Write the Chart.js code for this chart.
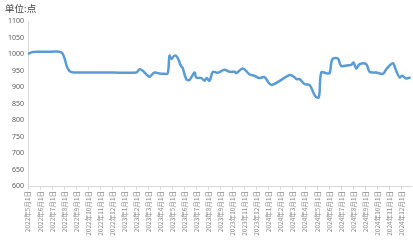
<!DOCTYPE html>
<html>
<head>
<meta charset="utf-8">
<script src="https://cdn.jsdelivr.net/npm/chart.js@4/dist/chart.umd.min.js"></script>
<style>
    html, body { margin: 0; padding: 0; background: #fff; }
    #wrap { width: 413px; height: 241px; position: relative; }
    #unit {
        position: absolute; left: 5px; top: 1px;
        font: 9.5px "Noto Sans CJK SC", sans-serif; color: #404040;
    }
</style>
</head>
<body>
<div id="wrap"><canvas id="chart"></canvas><div id="unit">单位:点</div></div>
<script>
// Month tick labels (one per month start)
const monthLabels = [
    '2022年5月1日', '2022年6月1日', '2022年7月1日', '2022年8月1日', '2022年9月1日',
    '2022年10月1日', '2022年11月1日', '2022年12月1日', '2023年1月1日', '2023年2月1日',
    '2023年3月1日', '2023年4月1日', '2023年5月1日', '2023年6月1日', '2023年7月1日',
    '2023年8月1日', '2023年9月1日', '2023年10月1日', '2023年11月1日', '2023年12月1日',
    '2024年1月1日', '2024年2月1日', '2024年3月1日', '2024年4月1日', '2024年5月1日',
    '2024年6月1日', '2024年7月1日', '2024年8月1日', '2024年9月1日', '2024年10月1日',
    '2024年11月1日', '2024年12月1日'
];

// Position of each point, in months since 2022-05-01
const pointMonths = [
    0, 0.4, 1.0, 2.0, 2.6, 2.85, 3.05, 3.25, 3.5, 3.8,
    5.0, 7.0, 9.0, 9.26, 9.5, 9.95, 10.1, 10.5, 10.9, 11.33,
    11.6, 11.75, 11.9, 12.17, 12.4, 12.7, 12.83, 13.14, 13.4, 13.83,
    13.97, 14.4, 14.66, 14.83, 15.07, 15.35, 15.74, 16.32, 16.74, 17.15,
    17.3, 17.84, 18.4, 18.8, 19.2, 19.64, 20.05, 20.33, 21.7, 21.97,
    22.3, 22.55, 22.96, 23.38, 23.87, 24.15, 24.35, 24.77, 25.04, 25.27,
    25.73, 26.0, 26.56, 26.84, 27.03, 27.26, 27.53, 28.09, 28.36, 28.92,
    29.47, 29.75, 30.3, 30.52, 30.85, 31.07, 31.4, 31.77
];

// Index value (点)
const pointValues = [
    1000, 1006, 1007, 1007, 1007, 1002, 985, 960, 947, 944,
    944, 944, 944, 954, 950, 934, 931, 944, 941, 940,
    941, 995, 985, 995, 990, 964, 959, 924, 921, 944,
    929, 927, 919, 927, 919, 946, 943, 952, 946, 946,
    942, 956, 938, 934, 927, 930, 910, 907, 936, 934,
    924, 924, 909, 906, 871, 869, 944, 942, 942, 984,
    986, 964, 966, 967, 974, 956, 969, 969, 946, 944,
    940, 954, 972, 954, 929, 934, 926, 929
];

const yTicks = [600, 650, 700, 750, 800, 850, 900, 950, 1000, 1050, 1100];

const points = pointMonths.map((m, i) => ({ x: m, y: pointValues[i] }));

const ctx = document.getElementById('chart').getContext('2d');
new Chart(ctx, {
    type: 'line',
    data: {
        datasets: [{
            label: '指数',
            data: points,
            borderColor: '#5B9BD5',
            borderWidth: 2.5,
            pointRadius: 0,
            tension: 0.35,
            fill: false
        }]
    },
    options: {
        responsive: true,
        maintainAspectRatio: false,
        animation: false,
        layout: {
            padding: { left: 0, right: 2, top: 21, bottom: 3 }
        },
        plugins: {
            legend: { display: false },
            tooltip: { enabled: false }
        },
        scales: {
            x: {
                type: 'linear',
                min: 0,
                max: 31.8,
                afterBuildTicks: function(axis) {
                    axis.ticks = monthLabels.map((_, i) => ({ value: i }));
                },
                afterFit: function(axis) {
                    axis.height = 52;
                },
                grid: {
                    drawOnChartArea: false,
                    color: '#d9d9d9',
                    tickLength: 4
                },
                border: { color: '#d9d9d9' },
                ticks: {
                    autoSkip: false,
                    maxRotation: 90,
                    minRotation: 90,
                    padding: 1,
                    color: '#8c8c8c',
                    font: { family: '"Noto Sans CJK SC", sans-serif', size: 6.5 },
                    callback: function(value) {
                        return monthLabels[value];
                    }
                }
            },
            y: {
                min: 600,
                max: 1100,
                afterBuildTicks: function(axis) {
                    axis.ticks = yTicks.map(v => ({ value: v }));
                },
                afterFit: function(axis) {
                    axis.width = 28;
                },
                grid: {
                    drawOnChartArea: false,
                    drawTicks: false
                },
                border: { color: '#d9d9d9' },
                ticks: {
                    padding: 4,
                    color: '#595959',
                    font: { family: '"Noto Sans", sans-serif', size: 7 },
                    callback: function(value) {
                        return String(value);
                    }
                }
            }
        }
    }
});
</script>
</body>
</html>
